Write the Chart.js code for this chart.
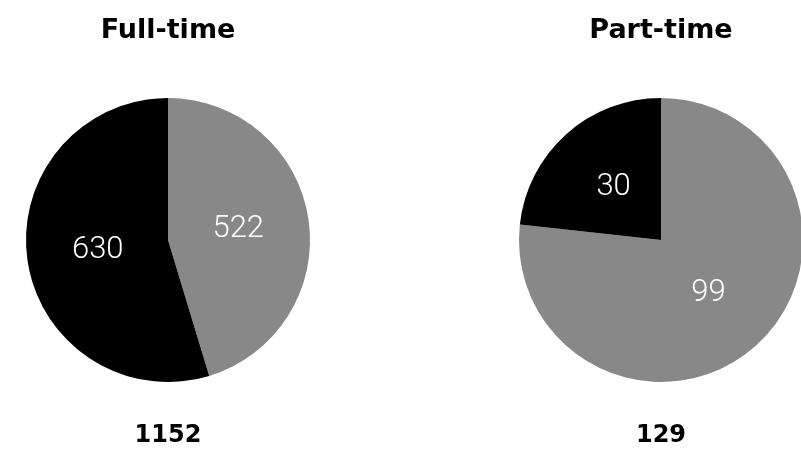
<!DOCTYPE html>
<html>
<head>
<meta charset="utf-8">
<script src="https://cdn.jsdelivr.net/npm/chart.js@4/dist/chart.umd.min.js"></script>
<style>
  html, body { margin: 0; padding: 0; background: #fff; overflow: hidden; }
  body { width: 801px; height: 464px; position: relative; }
  .pie { position: absolute; top: 0; width: 336px; height: 464px; }
</style>
</head>
<body>
<div class="pie" style="left:0px"><canvas id="fullChart"></canvas></div>
<div class="pie" style="left:493px"><canvas id="partChart"></canvas></div>
<script>
// Dane wykresow
const groups = ['Full-time', 'Part-time'];
const fullTimeValues = [522, 630];
const partTimeValues = [99, 30];
const sliceColors = ['#888888', '#000000'];

const titleFont = { family: '"DejaVu Sans", sans-serif', size: 27, weight: 'bold', lineHeight: 1.2 };
const totalFont = { family: '"DejaVu Sans", sans-serif', size: 24, weight: 'bold', lineHeight: 1.2 };

// Liczby w srodku wycinkow
const sliceLabels = {
    id: 'sliceLabels',
    afterDatasetsDraw(chart) {
        const ctx = chart.ctx;
        const meta = chart.getDatasetMeta(0);
        ctx.save();
        ctx.fillStyle = '#ffffff';
        ctx.font = '300 31px Roboto, "Liberation Sans", sans-serif';
        ctx.textAlign = 'center';
        ctx.textBaseline = 'middle';
        meta.data.forEach(function (arc, i) {
            const p = arc.getCenterPoint();
            ctx.fillText(chart.data.datasets[0].data[i], p.x, p.y);
        });
        ctx.restore();
    }
};

function makePie(canvasId, title, values) {
    const total = values.reduce((a, b) => a + b, 0);
    return new Chart(document.getElementById(canvasId).getContext('2d'), {
        type: 'pie',
        data: {
            labels: values.map(String),
            datasets: [{
                data: values,
                backgroundColor: sliceColors,
                borderWidth: 0,
                radius: 142
            }]
        },
        options: {
            responsive: true,
            maintainAspectRatio: false,
            animation: false,
            plugins: {
                legend: { display: false },
                tooltip: { enabled: false },
                title: {
                    display: true,
                    text: title,
                    color: '#000',
                    font: titleFont,
                    padding: { top: 15, bottom: 17 }
                },
                subtitle: {
                    display: true,
                    position: 'bottom',
                    text: String(total),
                    color: '#000',
                    font: totalFont,
                    padding: { top: 6, bottom: 13.6 }
                }
            }
        },
        plugins: [sliceLabels]
    });
}

makePie('fullChart', groups[0], fullTimeValues);
makePie('partChart', groups[1], partTimeValues);
</script>
</body>
</html>
